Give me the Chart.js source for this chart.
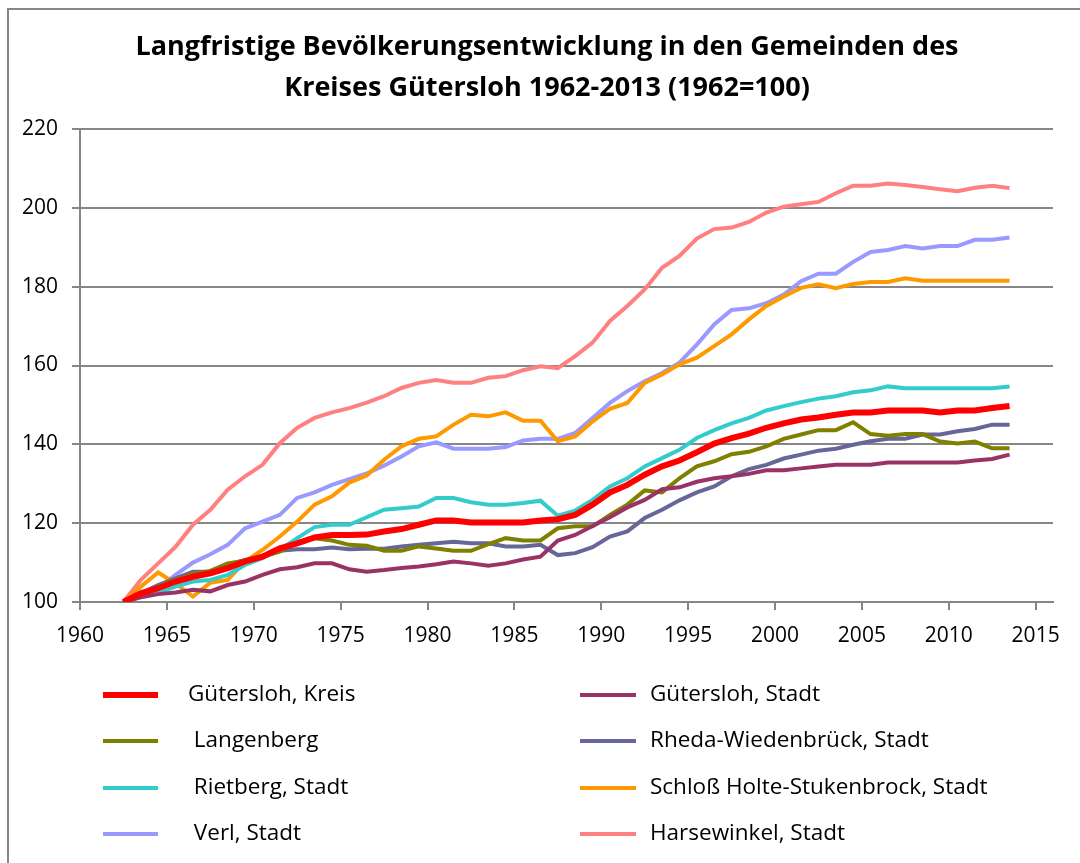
<!DOCTYPE html>
<html>
<head>
<meta charset="utf-8">
<script src="https://cdn.jsdelivr.net/npm/chart.js@4.4.0/dist/chart.umd.min.js"></script>
<style>
  html, body { margin: 0; padding: 0; background: #fff; }
  #wrap { width: 1080px; height: 863px; }
</style>
</head>
<body>
<div id="wrap"><canvas id="chart" width="1080" height="863"></canvas></div>
<script>
// ─── Data (1962 = 100) ─────────────────────────────────────────
const years = [1962,1963,1964,1965,1966,1967,1968,1969,
  1970,1971,1972,1973,1974,1975,1976,1977,1978,1979,
  1980,1981,1982,1983,1984,1985,1986,1987,1988,1989,
  1990,1991,1992,1993,1994,1995,1996,1997,1998,1999,
  2000,2001,2002,2003,2004,2005,2006,2007,2008,2009,
  2010,2011,2012,2013];

const kreis = [100,102.2,103.5,105.2,106.4,107.3,108.6,110.3,
  111.5,113.6,114.9,116.4,117,117,117.1,117.9,118.5,119.6,
  120.7,120.7,120.2,120.2,120.2,120.2,120.7,121,122.1,124.7,
  127.8,129.7,132.3,134.4,135.9,138,140.2,141.6,142.7,144.2,
  145.3,146.3,146.8,147.5,148.1,148.1,148.6,148.6,148.6,148.1,
  148.6,148.6,149.2,149.7];

const guetersloh = [100,101.2,102,102.4,103.1,102.7,104.3,105.2,
  106.9,108.3,108.8,109.8,109.8,108.3,107.7,108.1,108.6,109,
  109.6,110.3,109.8,109.2,109.8,110.8,111.5,115.6,117,119.3,
  121.5,124,125.9,128.6,129.1,130.5,131.4,131.9,132.5,133.4,
  133.4,133.9,134.4,134.8,134.8,134.8,135.4,135.4,135.4,135.4,
  135.4,135.9,136.3,137.4];

const langenberg = [100,102.2,103.9,105.6,107.1,107.9,109.8,110.5,
  111.5,112.8,115.1,116.2,115.6,114.5,114.3,113,113,114.1,
  113.6,113,113,114.7,116.2,115.6,115.6,118.7,119.2,119.2,
  122.1,124.7,128.3,127.8,131.4,134.4,135.7,137.5,138.1,139.5,
  141.4,142.5,143.6,143.6,145.6,142.6,142.2,142.6,142.6,140.7,
  140.2,140.7,139,139];

const rheda = [100,102.2,104.3,106,107.7,107.7,109.4,110.7,
  111.5,113,113.4,113.4,113.8,113.4,113.5,113.5,114.1,114.5,
  114.9,115.3,114.9,114.9,114.1,114.1,114.5,111.9,112.4,113.9,
  116.6,117.9,121.3,123.4,125.8,127.8,129.3,131.9,133.7,134.8,
  136.4,137.4,138.4,138.9,139.9,140.8,141.4,141.4,142.5,142.5,
  143.3,143.9,145,145];

const rietberg = [100,101.4,102.4,103.9,105.2,105.6,106.9,109.4,
  111.1,113.2,116.2,119,119.6,119.6,121.5,123.4,123.8,124.2,
  126.4,126.4,125.3,124.7,124.7,125.1,125.7,121.9,123.2,125.9,
  129.3,131.4,134.4,136.5,138.6,141.6,143.6,145.3,146.7,148.6,
  149.7,150.7,151.6,152.2,153.2,153.7,154.7,154.2,154.2,154.2,
  154.2,154.2,154.2,154.7];

const schlossHolte = [100,103.9,107.5,104.7,101.4,104.9,105.6,110.3,
  113.2,116.6,120.4,124.7,126.8,130.3,132.1,136.1,139.5,141.4,
  142,145,147.5,147.1,148.1,146,146,140.8,142,145.8,
  149,150.5,155.6,157.7,160.3,162,164.9,167.9,171.7,175.1,
  177.5,179.7,180.6,179.6,180.7,181.2,181.2,182.1,181.5,181.5,
  181.5,181.5,181.5,181.5];

const verl = [100,101.8,103.5,106.9,110,112.1,114.5,118.7,
  120.4,122.1,126.4,127.8,129.7,131.2,132.6,134.6,136.9,139.5,
  140.5,138.9,138.9,138.9,139.3,141,141.4,141.4,142.9,146.7,
  150.5,153.5,156,158.1,160.7,165.3,170.4,174.1,174.5,175.8,
  178,181.4,183.3,183.3,186.3,188.8,189.3,190.3,189.7,190.3,
  190.3,191.9,191.9,192.5];

const harsewinkel = [100,105.6,109.8,114,119.6,123.4,128.5,131.9,
  134.8,140.3,144.2,146.7,148.1,149.2,150.6,152.2,154.3,155.6,
  156.3,155.6,155.6,156.9,157.3,158.8,159.8,159.3,162.4,165.8,
  171.3,175.1,179.3,184.8,187.8,192.2,194.6,195,196.4,198.8,
  200.3,200.9,201.5,203.7,205.6,205.6,206.2,205.8,205.3,204.7,
  204.2,205.1,205.6,205];

const seriesNames = ['Gütersloh, Kreis', 'Gütersloh, Stadt', ' Langenberg', 'Rheda-Wiedenbrück, Stadt',
  ' Rietberg, Stadt', 'Schloß Holte-Stukenbrock, Stadt', ' Verl, Stadt', 'Harsewinkel, Stadt'];
const seriesValues = [kreis, guetersloh, langenberg, rheda, rietberg, schlossHolte, verl, harsewinkel];
const seriesColors = ['#FF0000', '#993366', '#808000', '#666699', '#33CCCC', '#FF9900', '#9999FF', '#FF8080'];

const xTicks = [1960,1965,1970,1975,1980,1985,1990,1995,2000,2005,2010,2015];
const yTicks = [100,120,140,160,180,200,220];

const TITLE = ['Langfristige Bevölkerungsentwicklung in den Gemeinden des',
  'Kreises Gütersloh 1962-2013 (1962=100)'];
const FONT = '"Open Sans", "DejaVu Sans", sans-serif';
const GRID = '#868686';

// values are mid-year, points sit half a year right of the tick
const datasets = seriesValues.map((vals, i) => ({
  label: seriesNames[i],
  data: vals.map((v, k) => ({ x: years[k] + 0.5, y: v })),
  borderColor: seriesColors[i],
  backgroundColor: seriesColors[i],
  borderWidth: i === 0 ? 6 : 4,
  pointRadius: 0,
  tension: 0,
  fill: false
}));

// ─── Frame, title and two-column legend ────────────────────────
const framePlugin = {
  id: 'frame',
  beforeDraw(chart) {
    const ctx = chart.ctx;
    ctx.save();
    ctx.fillStyle = '#fff';
    ctx.fillRect(0, 0, chart.width, chart.height);
    ctx.strokeStyle = GRID;
    ctx.lineWidth = 2;
    ctx.strokeRect(8, 9, chart.width + 40, chart.height + 40);
    ctx.fillStyle = '#000';
    ctx.font = 'bold 27px ' + FONT;
    ctx.textAlign = 'center';
    ctx.textBaseline = 'middle';
    ctx.fillText(TITLE[0], 547, 47);
    ctx.fillText(TITLE[1], 547, 88);
    ctx.restore();
  },
  afterDraw(chart) {
    const ctx = chart.ctx;
    const rows = [695, 741, 788, 834];
    const cols = [{ x1: 103, x2: 158, tx: 188 }, { x1: 580, x2: 636, tx: 650 }];
    ctx.save();
    ctx.font = '22.5px ' + FONT;
    ctx.textBaseline = 'middle';
    ctx.textAlign = 'left';
    chart.data.datasets.forEach((ds, i) => {
      const c = cols[i % 2], y = rows[Math.floor(i / 2)];
      ctx.strokeStyle = ds.borderColor;
      ctx.lineWidth = ds.borderWidth;
      ctx.beginPath();
      ctx.moveTo(c.x1, y);
      ctx.lineTo(c.x2, y);
      ctx.stroke();
      ctx.fillStyle = '#000';
      ctx.fillText(ds.label, c.tx, y);
    });
    ctx.restore();
  }
};

new Chart(document.getElementById('chart'), {
  type: 'line',
  data: { datasets },
  plugins: [framePlugin],
  options: {
    responsive: false,
    animation: false,
    layout: { padding: { top: 129, right: 27, left: 0, bottom: 0 } },
    plugins: {
      legend: { display: false },
      title: { display: false },
      tooltip: { enabled: false }
    },
    scales: {
      x: {
        type: 'linear',
        min: 1960,
        max: 2016,
        afterFit: s => { s.height = 261; },
        afterBuildTicks: s => { s.ticks = xTicks.map(v => ({ value: v })); },
        grid: { drawOnChartArea: false, drawTicks: true, tickLength: 8, color: GRID, lineWidth: 2 },
        border: { color: GRID, width: 2 },
        ticks: { color: '#000', font: { family: FONT, size: 21 }, padding: 13, maxRotation: 0, autoSkip: false,
          callback: v => String(v) }
      },
      y: {
        min: 100,
        max: 220,
        afterFit: s => { s.width = 80; },
        afterBuildTicks: s => { s.ticks = yTicks.map(v => ({ value: v })); },
        grid: { color: GRID, lineWidth: 2, tickLength: 8 },
        border: { color: GRID, width: 2 },
        ticks: { color: '#000', font: { family: FONT, size: 21 }, padding: 14 }
      }
    }
  }
});
</script>
</body>
</html>
